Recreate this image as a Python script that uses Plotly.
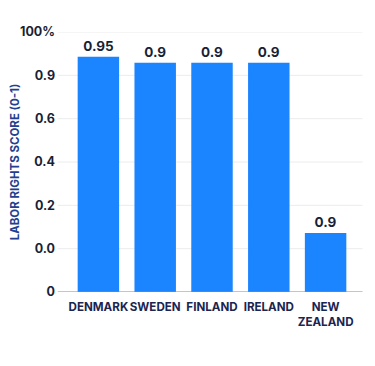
import plotly.graph_objects as go

countries = ["DENMARK", "SWEDEN", "FINLAND", "IRELAND", "NEW<br>ZEALAND"]
bar_heights = [1.086, 1.058, 1.058, 1.058, 0.272]   # drawn height in axis units (as pictured)
value_labels = ["0.95", "0.9", "0.9", "0.9", "0.9"]
tick_vals = [0, 0.2, 0.4, 0.6, 0.8, 1.0, 1.2]
tick_text = ["0", "0.0", "0.2", "0.4", "0.6", "0.9", "100%"]

navy = "#1b2550"
FONT = "Inter"
fig = go.Figure(go.Bar(
    x=countries, y=bar_heights, text=value_labels, textposition="outside",
    marker=dict(color="#1a85ff", line=dict(width=0)),
    textfont=dict(family=FONT, size=13.5, color="#1a1f36", weight="bold"),
    cliponaxis=False,
))

shapes = []
for v in tick_vals[1:]:
    shapes.append(dict(type="line", xref="paper", yref="y", x0=-0.043, x1=1.03, y0=v, y1=v,
                       line=dict(color="#ececec", width=1), layer="below"))
shapes.append(dict(type="line", xref="paper", yref="y", x0=-0.043, x1=1.03, y0=0, y1=0,
                   line=dict(color="#8a8a8a", width=1), layer="above"))

fig.update_layout(
    width=375, height=366,
    margin=dict(l=62, r=29, t=24, b=82),
    plot_bgcolor="white", paper_bgcolor="white",
    bargap=0.27,
    showlegend=False,
    shapes=shapes,
    xaxis=dict(showgrid=False, showline=False, ticks="", tickangle=0, automargin=False,
               ticklabelstandoff=6,
               tickfont=dict(family=FONT, size=11.6, color=navy, weight="bold")),
    yaxis=dict(range=[0, 1.2], tickvals=tick_vals, ticktext=tick_text, showgrid=False,
               zeroline=False, showline=False, ticks="", ticklabelstandoff=14, automargin=False,
               tickfont=dict(family=FONT, size=12.5, color="#1a1f36", weight="bold"),
               title=dict(text="LABOR RIGHTS SCORE (0-1)", standoff=1,
                          font=dict(family=FONT, size=11.5, color="#23408e", weight="bold"))),
)
fig.write_html("out.html")
